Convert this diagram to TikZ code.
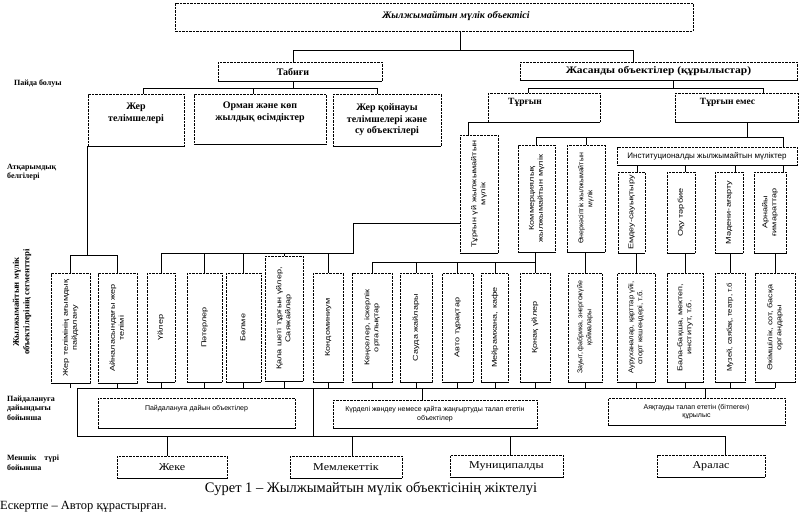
\documentclass[tikz,border=0pt]{standalone}
\usepackage{fontspec}
\setmainfont{Liberation Serif}
\newfontfamily\sansf{Liberation Sans}
\newfontfamily\widesans[FakeStretch=1.3]{Liberation Sans}
\newfontfamily\midsans[FakeStretch=1.1]{Liberation Sans}
\newfontfamily\wideserif[FakeStretch=1.15]{Liberation Serif}
\newcommand\mkvert[1]{\rotatebox{90}{\begin{tabular}{@{}c@{}}#1\end{tabular}}}
\tikzset{
  bx/.style={draw, dash pattern=on 2.5pt off 1pt, line width=0.5pt, inner sep=1pt, align=center},
  hd/.style={font=\bfseries\fontsize{10}{11.5}\selectfont},
  vb/.style={bx, font=\widesans\fontsize{7}{9}\selectfont},
  vbm/.style={bx, font=\midsans\fontsize{7}{9}\selectfont},
  vbn/.style={bx, font=\sansf\fontsize{7}{9}\selectfont},
  sb/.style={bx, font=\sansf\fontsize{7}{8.5}\selectfont},
  ob/.style={bx, font=\wideserif\fontsize{10.5}{12}\selectfont, minimum height=22pt},
  ln/.style={line width=0.8pt},
  lbl/.style={font=\bfseries\fontsize{8}{9.5}\selectfont, align=left, anchor=west, inner sep=0pt},
}
\begin{document}
\begin{tikzpicture}[x=1pt,y=-1pt]
\useasboundingbox[fill=white] (0,0) rectangle (800,515);

% title
\node[bx, minimum width=518pt, minimum height=28pt] (title) at (434,17) {};
\node[font=\bfseries\itshape\fontsize{10}{12}\selectfont, inner sep=0pt] (titletext) at (456,16) {Жылжымайтын мүлік объектісі};

% level 1
\node[bx, hd, minimum width=164pt, minimum height=19pt] (tab) at (300,71.5) {Табиғи\hspace*{14pt}};
\node[bx, hd, font=\bfseries\wideserif\fontsize{10}{11.5}\selectfont, minimum width=277pt, minimum height=18pt] (jas) at (658.5,71) {Жасанды объектілер (құрылыстар)};

% level 2 natural
\node[bx, hd, minimum width=96pt, minimum height=52pt, text depth=16pt] (zher) at (136,120) {Жер\\телімшелері};
\node[bx, hd, minimum width=132pt, minimum height=50pt, text depth=16pt] (orman) at (260,119) {Орман және көп\\жылдық өсімдіктер};
\node[bx, hd, minimum width=108pt, minimum height=52pt] (qoin) at (387,120) {Жер қойнауы\\телімшелері және\\су объектілері};

% level 2 artificial
\node[bx, hd, font=\bfseries\fontsize{9.5}{11}\selectfont, minimum width=112pt, minimum height=29pt, text depth=12pt] (tur) at (544,107.5) {Тұрғын\hspace*{38pt}};
\node[bx, hd, font=\bfseries\fontsize{9.5}{11}\selectfont, minimum width=123pt, minimum height=29pt, text depth=12pt] (turem) at (736.5,107.5) {Тұрғын емес\hspace*{18pt}};

% upper vertical boxes
\node[vb, minimum width=38pt, minimum height=118pt] (tuy) at (479,194) {\mkvert{Тұрғын үй жылжымайтын\\мүлік}};
\node[vb, minimum width=37pt, minimum height=107pt] (kom) at (536.5,198.5) {\mkvert{Коммерциялық\\жылжымайтын мүлік}};
\node[vbn, minimum width=38pt, minimum height=107pt] (ones) at (586,198.5) {\mkvert{Өнеркәсіптік жылжымайтын\\мүлік}};
\node[bx, font=\sansf\fontsize{8}{9}\selectfont, minimum width=180pt, minimum height=18pt] (inst) at (707,156) {Институционалды жылжымайтын мүліктер};
\node[vb, minimum width=27pt, minimum height=81pt] (emdeu) at (631.5,212.5) {\mkvert{Емдеу-сауықтыру}};
\node[vb, minimum width=28pt, minimum height=81pt] (oqu) at (681,212.5) {\mkvert{Оқу тәрбие}};
\node[vb, minimum width=28pt, minimum height=81pt] (madeni) at (729,212.5) {\mkvert{Мәдени-ағарту}};
\node[vb, minimum width=32pt, minimum height=81pt] (arnaiy) at (770,212.5) {\mkvert{Арнайы\\ғимараттар}};

% segment boxes
\node[vb, minimum width=39pt, minimum height=110pt] (pla) at (70.5,328) {\mkvert{Жер телімінің ағымдық\\пайдалану}};
\node[vb, minimum width=39pt, minimum height=110pt] (plb) at (117.5,328) {\mkvert{Айналасындағы жер\\телімі}};
\node[vb, minimum width=28pt, minimum height=109pt] (uyler) at (161,327.5) {\mkvert{Үйлер}};
\node[vb, minimum width=35pt, minimum height=109pt] (pater) at (204.5,327.5) {\mkvert{Пәтерлер}};
\node[vb, minimum width=35pt, minimum height=109pt] (bolme) at (243.5,327.5) {\mkvert{Бөлме}};
\node[vb, minimum width=38pt, minimum height=125pt] (qala) at (284,318.5) {\mkvert{Қала шеті тұрғын үйлер,\\Саяжайлар}};
\node[vb, minimum width=30pt, minimum height=109pt] (kondo) at (328,327.5) {\mkvert{Кондоминиум}};
\node[vb, minimum width=40pt, minimum height=109pt] (kense) at (372,327.5) {\mkvert{Кеңселер, іскерлік\\орталықтар}};
\node[vb, minimum width=32pt, minimum height=109pt] (sauda) at (416,327.5) {\mkvert{Сауда жайлары}};
\node[vb, minimum width=31pt, minimum height=109pt] (avto) at (457.5,327.5) {\mkvert{Авто тұрақтар}};
\node[vb, minimum width=27pt, minimum height=109pt] (meyram) at (495,327.5) {\mkvert{Мейрамхана, кафе}};
\node[vb, minimum width=30pt, minimum height=109pt] (qonaq) at (535,327.5) {\mkvert{Қонақ үйлер}};
\node[vbn, minimum width=34pt, minimum height=109pt] (zauyt) at (585,327.5) {\mkvert{Зауыт, фабрика, энергожүйе\\қоймалары}};
\node[vbm, minimum width=38pt, minimum height=109pt] (aurukh) at (636,327.5) {\mkvert{Ауруханалар, қарттар үйі,\\спорт кешендері, т.б.}};
\node[vb, minimum width=36pt, minimum height=109pt] (bala) at (685,327.5) {\mkvert{Бала-бақша, мектеп,\\институт, т.б.}};
\node[vbm, minimum width=30pt, minimum height=109pt] (muzei) at (730,327.5) {\mkvert{Музей, саябақ, театр, т.б}};
\node[vb, minimum width=40pt, minimum height=109pt] (akim) at (775,327.5) {\mkvert{Әкімшілік, сот, басқа\\органдары}};

% readiness boxes
\node[sb, minimum width=197pt, minimum height=30pt, text depth=10pt] (paid) at (196.5,413) {Пайдалануға дайын объектілер};
\node[sb, minimum width=204pt, minimum height=28pt] (kurd) at (435,414) {Күрделі жөндеу немесе қайта жаңғыртуды талап ететін\\объектілер};
\node[sb, minimum width=177pt, minimum height=27pt] (ayaq) at (696.5,411.5) {Аяқтауды талап ететін (бітпеген)\\құрылыс};

% ownership boxes
\node[ob, minimum width=110pt] (zheke) at (172,467) {Жеке};
\node[ob, minimum width=112pt] (meml) at (346,467) {Мемлекеттік};
\node[ob, minimum width=113pt] (munic) at (506.5,466) {Муниципалды};
\node[ob, minimum width=108pt] (aralas) at (711,466) {Аралас};

% bold bottom edges
\foreach \n in {tab,jas,zher,orman,qoin,tur,turem,tuy,kom,ones,inst,emdeu,oqu,madeni,arnaiy,pla,plb,uyler,pater,bolme,qala,kondo,kense,sauda,avto,meyram,qonaq,zauyt,aurukh,bala,muzei,akim,paid,kurd,ayaq,zheke,meml,munic,aralas}
  \draw[line width=1.3pt] (\n.south west) -- (\n.south east);

% connectors top
\draw[ln] (title.south -| 460,0) -- (460,50);
\draw[ln] (tab.north -| 293,0) -- (293,50) -- (633,50) -- (jas.north -| 633,0);
\draw[ln] (tab.south -| 293,0) -- (293,88);
\draw[ln] (zher.north -| 143,0) -- (143,88) -- (377,88) -- (qoin.north -| 377,0);
\draw[ln] (orman.north -| 253,0) -- (253,88);
\draw[ln] (jas.south -| 673,0) -- (673,88);
\draw[ln] (tur.north -| 528,0) -- (528,88) -- (763,88) -- (turem.north -| 763,0);

% residential
\draw[ln] (tur.south west) -| (tuy.north -| 468,0);
\draw[ln] (tuy.west |- 0,223) -- (353,223) -- (353,253) -- (uyler.north |- 0,253);
\foreach \n in {uyler,pater,bolme,qala,kondo}
  \draw[ln] (\n.north) -- (\n.north |- 0,253);

% non-residential
\draw[ln] (turem.south -| 747,0) -- (747,137);
\draw[ln] (kom.north) -- (kom.north |- 0,137) -- (783,137) -- (inst.north -| 783,0);
\draw[ln] (ones.north) -- (ones.north |- 0,137);
\foreach \n/\x in {emdeu/637,oqu/685,madeni/735,arnaiy/783}
  \draw[ln] (inst.south -| \x,0) -- (\n.north -| \x,0);

% commercial
\draw[ln] (qonaq.north) -- (qonaq.north |- kom.south);
\draw[ln] (kense.north |- 0,262) -- (qonaq.north |- 0,262);
\foreach \n in {kense,sauda,avto,meyram}
  \draw[ln] (\n.north) -- (\n.north |- 0,262);
\draw[ln] (zauyt.north) -- (zauyt.north |- ones.south);
\foreach \a/\b in {emdeu/aurukh,oqu/bala,madeni/muzei,arnaiy/akim}
  \draw[ln] (\b.north) -- (\b.north |- \a.south);

% land plots
\draw[ln] (zher.south west) -- (zher.south west |- 0,255);
\draw[ln] (pla.north) -- (pla.north |- 0,255) -- (plb.north |- 0,255) -- (plb.north);

% lower bus
\coordinate (fTL) at (77,388);
\coordinate (fBL) at (77,436);
\coordinate (fTR) at (313,388);
\coordinate (fBR) at (313,436);
\foreach \n in {pla,plb,uyler,pater,bolme,qala,kondo,kense,sauda,avto,meyram,qonaq,zauyt,aurukh,bala,muzei,akim}
  \draw[ln] (\n.south) -- (\n.south |- 0,388);
\draw[ln] (fTL) -- (akim.south |- fTL);
\draw[ln] (fTL) -- (fBL);
\draw[ln] (fTR) -- (fBR);
\draw[ln] (kurd.north -| 422,0) -- (422,388);
\draw[ln] (ayaq.north -| 705,0) -- (705,388);
\draw[ln] (fBL) -- (725,436);
\foreach \n/\x in {zheke/167,meml/352,munic/510,aralas/725}
  \draw[ln] (\n.north -| \x,0) -- (\x,436);

% left labels
\node[lbl] (l1) at (14,83) {Пайда болуы};
\node[lbl] (l2) at (7,172) {Атқарымдық\\белгілері};
\node[font=\bfseries\fontsize{8.7}{10.5}\selectfont, align=center, inner sep=0pt, rotate=90] (l3) at (22,302) {Жылжымайтын мүлік\\объектілерінің сегменттері};
\node[lbl] (l4) at (7,408) {Пайдалануға\\дайындығы\\бойынша};
\node[lbl] (l5) at (7,463) {Меншік\quad түрі\\бойынша};

% caption
\node[font=\fontsize{14.5}{16}\selectfont, inner sep=0pt] (cap) at (371,489) {Сурет 1 -- Жылжымайтын мүлік объектісінің жіктелуі};
\node[font=\fontsize{12.5}{14}\selectfont, anchor=west, inner sep=0pt] (note) at (0,507) {Ескертпе -- Автор құрастырған.};
\end{tikzpicture}
\end{document}
